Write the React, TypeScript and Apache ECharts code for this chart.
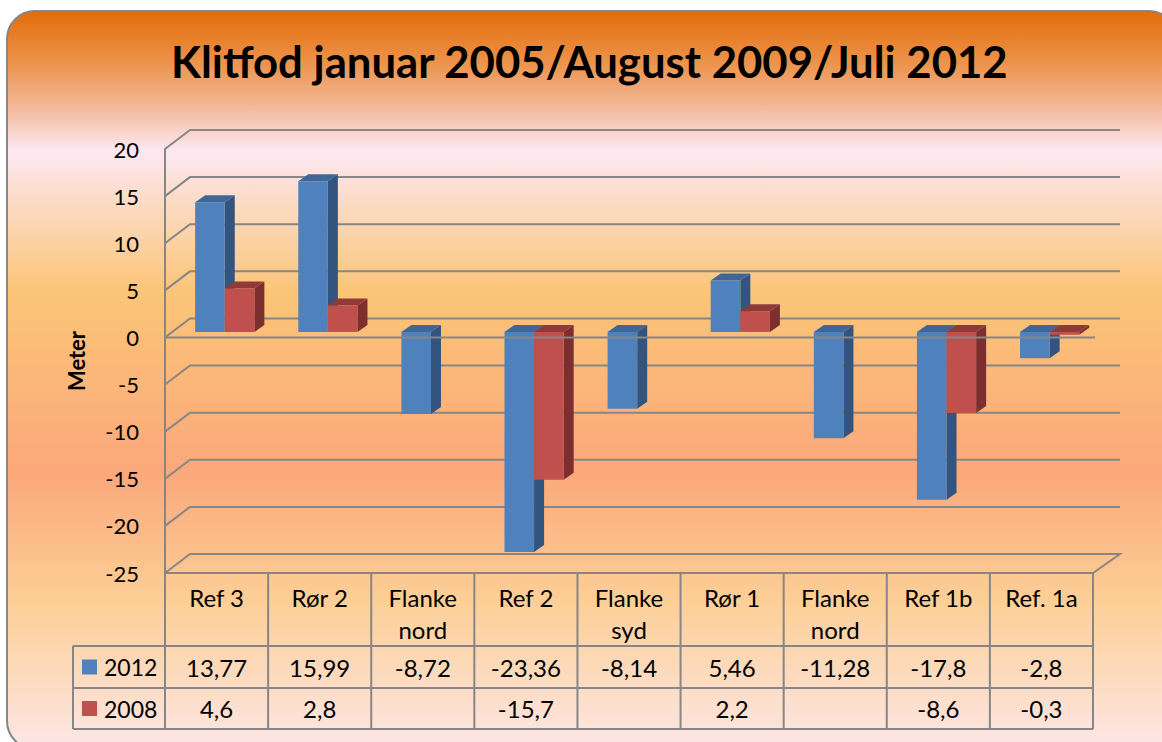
import React, { useEffect, useRef } from "react";
import * as echarts from "echarts";

const titleText = "Klitfod januar 2005/August 2009/Juli 2012";
const axisName = "Meter";
const categories = ["Ref 3", "Rør 2", "Flanke\nnord", "Ref 2", "Flanke\nsyd", "Rør 1", "Flanke\nnord", "Ref 1b", "Ref. 1a"];
const values2012: (number | null)[] = [13.77, 15.99, -8.72, -23.36, -8.14, 5.46, -11.28, -17.8, -2.8];
const values2008: (number | null)[] = [4.6, 2.8, null, -15.7, null, 2.2, null, -8.6, -0.3];
const seriesNames = ["2012", "2008"];
const yTicks = [20, 15, 10, 5, 0, -5, -10, -15, -20, -25];

const FONT = "Lato, Carlito, sans-serif";
const LINE = "#868686";
const GRID = { left: 165, top: 149, width: 928, height: 424 };
const WALL = { dx: 25, dy: -19 };
const BAR = { width: 29.6, dx: 8.2, dy: -5.5, depthX: 10, depthY: -7 };
const TABLE = { legendLeft: 73, rowTops: [646, 688, 729] };
const blue = { front: "#4F81BD", top: "#3E6797", side: "#32547F" };
const red = { front: "#C0504D", top: "#8F3A38", side: "#7C2F2E" };

function toRows(vals: (number | null)[]) {
  return vals.flatMap((v, i) => (v === null ? [] : [[i, v]]));
}
function fmt(v: number | null) {
  return v === null ? "" : String(v).replace(".", ",");
}

function barRenderer(palette: typeof blue, slot: number) {
  return (_params: any, api: any) => {
    const idx = api.value(0);
    const val = api.value(1);
    const [cx, yZero0] = api.coord([idx, 0]);
    const [, yVal0] = api.coord([idx, val]);
    const x0 = cx + BAR.dx - BAR.width + slot * BAR.width;
    const x1 = x0 + BAR.width;
    const yZero = yZero0 + BAR.dy;
    const yVal = yVal0 + BAR.dy;
    const yTop = Math.min(yZero, yVal);
    const yBot = Math.max(yZero, yVal);
    const dx = BAR.depthX;
    const dy = BAR.depthY;
    return {
      type: "group",
      children: [
        { type: "polygon", shape: { points: [[x1, yTop], [x1 + dx, yTop + dy], [x1 + dx, yBot + dy], [x1, yBot]] }, style: { fill: palette.side } },
        { type: "polygon", shape: { points: [[x0, yTop], [x0 + dx, yTop + dy], [x1 + dx, yTop + dy], [x1, yTop]] }, style: { fill: palette.top } },
        { type: "rect", shape: { x: x0, y: yTop, width: BAR.width, height: yBot - yTop }, style: { fill: palette.front } },
      ],
    };
  };
}

function gridRenderer(params: any, api: any) {
  const cs = params.coordSys;
  const v = api.value(1);
  const y = api.coord([0, v])[1];
  const points = [
    [cs.x, y],
    [cs.x + WALL.dx, y + WALL.dy],
    [cs.x + cs.width + WALL.dx + 2, y + WALL.dy],
  ];
  if (v === yTicks[yTicks.length - 1]) points.push([cs.x + cs.width, y]);
  return { type: "polyline", shape: { points }, style: { stroke: LINE, fill: null, lineWidth: 2 } };
}

function zeroRenderer(params: any, api: any) {
  const cs = params.coordSys;
  const y = api.coord([0, 0])[1];
  return { type: "line", shape: { x1: cs.x, y1: y, x2: cs.x + cs.width + 2, y2: y }, style: { stroke: LINE, lineWidth: 2 } };
}

function buildGraphics() {
  const cw = GRID.width / categories.length;
  const right = GRID.left + GRID.width;
  const bottom = GRID.top + GRID.height;
  const [r0, r1, r2] = TABLE.rowTops;
  const els: any[] = [
    {
      type: "rect",
      z: -10,
      shape: { x: 7, y: 11, width: 1170, height: 738, r: 28 },
      style: {
        stroke: LINE,
        lineWidth: 2,
        fill: new echarts.graphic.LinearGradient(0, 0, 0, 1, [
          { offset: 0, color: "#E46C0A" },
          { offset: 0.07, color: "#EC934B" },
          { offset: 0.125, color: "#F2B592" },
          { offset: 0.19, color: "#FDE8F2" },
          { offset: 0.38, color: "#FBC577" },
          { offset: 0.625, color: "#FBA87B" },
          { offset: 0.8, color: "#FCCF96" },
          { offset: 1, color: "#FDE6E6" },
        ]),
      },
    },
  ];
  const ln = (x1: number, y1: number, x2: number, y2: number, w = 2) =>
    els.push({ type: "line", z: 5, shape: { x1, y1, x2, y2 }, style: { stroke: LINE, lineWidth: w } });
  const txt = (text: string, x: number, y: number, align = "center", size = 24) =>
    els.push({ type: "text", z: 6, x, y, style: { text, fill: "#000", fontFamily: FONT, fontSize: size, align, verticalAlign: "middle" } });

  for (let i = 0; i <= categories.length; i++) ln(GRID.left + i * cw, bottom, GRID.left + i * cw, r2);
  ln(TABLE.legendLeft, r0, right, r0);
  ln(TABLE.legendLeft, r1, right, r1);
  ln(TABLE.legendLeft, r2, right, r2);
  ln(TABLE.legendLeft, r0, TABLE.legendLeft, r2);

  [values2012, values2008].forEach((vals, s) => {
    const cy = s === 0 ? (r0 + r1) / 2 : (r1 + r2) / 2;
    els.push({ type: "rect", z: 6, shape: { x: 82, y: cy - 7.5, width: 15, height: 15 }, style: { fill: s === 0 ? blue.front : red.front } });
    txt(seriesNames[s], 104, cy, "left", 23);
    vals.forEach((v, i) => txt(fmt(v), GRID.left + (i + 0.5) * cw, cy));
  });
  return els;
}

export default function App() {
  const ref = useRef<HTMLDivElement>(null);
  useEffect(() => {
    const chart = echarts.init(ref.current!, null, { renderer: "svg" });
    chart.setOption({
      animation: false,
      backgroundColor: "#fff",
      title: {
        text: titleText,
        left: 166,
        top: 34,
        textStyle: { fontFamily: FONT, fontWeight: "bold", fontSize: 43.7, color: "#000" },
      },
      grid: { ...GRID, containLabel: false },
      xAxis: {
        type: "category",
        data: categories,
        axisLine: { show: true, onZero: false, lineStyle: { color: LINE, width: 2 } },
        axisTick: { show: false },
        axisLabel: { interval: 0, color: "#000", fontFamily: FONT, fontSize: 24, lineHeight: 32, margin: 8 },
      },
      yAxis: {
        type: "value",
        min: -25,
        max: 20,
        interval: 5,
        name: axisName,
        nameLocation: "middle",
        nameRotate: 90,
        nameGap: 78,
        nameTextStyle: { fontFamily: FONT, fontWeight: "bold", fontSize: 22, color: "#000" },
        axisLine: { show: true, onZero: false, lineStyle: { color: LINE, width: 2 } },
        axisTick: { show: false },
        splitLine: { show: false },
        axisLabel: { color: "#000", fontFamily: FONT, fontSize: 22, margin: 26, padding: [4, 0, 0, 0] },
      },
      graphic: { elements: buildGraphics() },
      series: [
        { type: "custom", name: "grid", z: 1, silent: true, renderItem: gridRenderer, data: yTicks.map((v) => [0, v]) },
        { type: "custom", name: seriesNames[0], z: 2, renderItem: barRenderer(blue, 0), data: toRows(values2012) },
        { type: "custom", name: seriesNames[1], z: 3, renderItem: barRenderer(red, 1), data: toRows(values2008) },
        { type: "custom", name: "zero", z: 4, silent: true, renderItem: zeroRenderer, data: [[0, 0]] },
      ],
    });
    return () => chart.dispose();
  }, []);
  return <div ref={ref} style={{ position: "absolute", left: 0, top: 0, width: 1162, height: 742 }} />;
}
